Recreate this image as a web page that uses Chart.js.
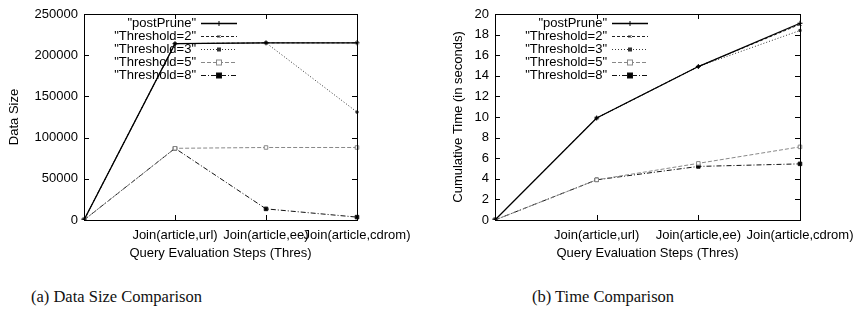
<!DOCTYPE html>
<html lang="en">
<head>
  <meta charset="UTF-8">
  <title>Data Size and Time Comparison</title>
  <script src="https://cdn.jsdelivr.net/npm/chart.js"></script>
  <style>
    * {
      margin: 0;
      padding: 0;
      box-sizing: border-box;
    }

    body {
      background: #fff;
      width: 854px;
      height: 320px;
      overflow: hidden;
      position: relative;
    }

    .panel {
      position: absolute;
      top: 0;
      height: 270px;
    }

    #sizeBox { left: 0; width: 425px; }
    #timeBox { left: 430px; width: 440px; }

    .caption {
      position: absolute;
      top: 287px;
      font-family: 'Liberation Serif', serif;
      font-size: 16.5px;
      color: #111;
    }
  </style>
</head>
<body>
  <div class="panel" id="sizeBox"><canvas id="sizeChart"></canvas></div>
  <div class="panel" id="timeBox"><canvas id="timeChart"></canvas></div>
  <div class="caption" style="left:31px">(a) Data Size Comparison</div>
  <div class="caption" style="left:532px">(b) Time Comparison</div>

  <script>
    // x categories (first step is the start, no label)
    const steps = ['', 'Join(article,url)', 'Join(article,ee)', 'Join(article,cdrom)'];
    const seriesNames = ['"postPrune"', '"Threshold=2"', '"Threshold=3"', '"Threshold=5"', '"Threshold=8"'];

    // (a) data size
    const sizePostPrune = [0, 214000, 215000, 215000];
    const sizeThres2 = [0, 214000, 215000, 215000];
    const sizeThres3 = [0, 214000, 215000, 131000];
    const sizeThres5 = [0, 87000, 88000, 88000];
    const sizeThres8 = [0, 87000, 13500, 3500];

    // (b) cumulative time in seconds
    const timePostPrune = [0, 9.9, 14.9, 19.1];
    const timeThres2 = [0, 9.9, 14.9, 19.0];
    const timeThres3 = [0, 9.9, 14.9, 18.4];
    const timeThres5 = [0, 3.9, 5.5, 7.1];
    const timeThres8 = [0, 3.9, 5.2, 5.45];

    const FONT = "'Liberation Sans', Arial, sans-serif";

    // line / marker style per series, same order as seriesNames
    const looks = [
      { color: '#000', dash: [], point: 'cross', radius: 2.5, fill: '#000', width: 1.3 },
      { color: '#222', dash: [3, 2], point: 'crossRot', radius: 2, fill: '#222', width: 1 },
      { color: '#333', dash: [1, 2], point: 'rect', radius: 1.5, fill: '#333', width: 1 },
      { color: '#888', dash: [4, 2], point: 'rect', radius: 2.5, fill: '#fff', width: 1 },
      { color: '#111', dash: [5, 2, 1, 2], point: 'rect', radius: 2.5, fill: '#000', width: 1 }
    ];

    // frame, inward ticks and gnuplot-like key
    const gnuplotLook = {
      id: 'gnuplotLook',
      afterDraw(chart) {
        const ctx = chart.ctx;
        const a = chart.chartArea;
        const xs = chart.scales.x;
        const ys = chart.scales.y;
        ctx.save();
        ctx.strokeStyle = '#000';
        ctx.lineWidth = 1;
        ctx.setLineDash([]);
        ctx.strokeRect(a.left + 0.5, a.top + 0.5, a.right - a.left, a.bottom - a.top);
        ctx.beginPath();
        ys.ticks.forEach(t => {
          const y = Math.round(ys.getPixelForValue(t.value)) + 0.5;
          ctx.moveTo(a.left, y); ctx.lineTo(a.left + 5, y);
          ctx.moveTo(a.right, y); ctx.lineTo(a.right - 5, y);
        });
        for (let i = 1; i < steps.length - 1; i++) {
          const x = Math.round(xs.getPixelForValue(i)) + 0.5;
          ctx.moveTo(x, a.bottom); ctx.lineTo(x, a.bottom - 5);
          ctx.moveTo(x, a.top); ctx.lineTo(x, a.top + 5);
        }
        ctx.stroke();

        // key
        ctx.font = '13px ' + FONT;
        ctx.textAlign = 'right';
        ctx.textBaseline = 'middle';
        chart.data.datasets.forEach((ds, i) => {
          const y = a.top + 9 + i * 13;
          const lk = looks[i];
          ctx.fillStyle = '#000';
          ctx.fillText(ds.label, a.left + 112, y);
          ctx.strokeStyle = lk.color;
          ctx.lineWidth = lk.width;
          ctx.setLineDash(lk.dash);
          ctx.beginPath();
          ctx.moveTo(a.left + 117, y + 0.5);
          ctx.lineTo(a.left + 153, y + 0.5);
          ctx.stroke();
          ctx.setLineDash([]);
          ctx.lineWidth = 1;
          ctx.fillStyle = lk.fill;
          if (lk.point === 'rect') {
            const r = lk.radius;
            ctx.fillRect(a.left + 135 - r, y + 0.5 - r, 2 * r, 2 * r);
            ctx.strokeRect(a.left + 135 - r, y + 0.5 - r, 2 * r, 2 * r);
          } else {
            Chart.helpers.drawPoint(ctx, {
              pointStyle: lk.point, radius: lk.radius, borderWidth: 1
            }, a.left + 135, y + 0.5);
          }
        });
        ctx.restore();
      }
    };

    function makeChart(canvasId, series, yMax, yStep, yTitle, padLeft, yWidth, padRight) {
      const datasets = series.map((vals, i) => ({
        label: seriesNames[i],
        data: vals,
        borderColor: looks[i].color,
        borderWidth: looks[i].width,
        borderDash: looks[i].dash,
        pointStyle: looks[i].point,
        pointRadius: looks[i].radius,
        pointBorderColor: looks[i].color,
        pointBackgroundColor: looks[i].fill,
        pointBorderWidth: 1,
        tension: 0,
        fill: false
      }));

      return new Chart(document.getElementById(canvasId), {
        type: 'line',
        data: { labels: steps, datasets: datasets },
        options: {
          responsive: true,
          maintainAspectRatio: false,
          animation: false,
          layout: { padding: { top: 14, right: padRight, left: padLeft, bottom: 9 } },
          plugins: {
            legend: { display: false },
            tooltip: { enabled: false }
          },
          scales: {
            x: {
              offset: false,
              grid: { display: false, drawTicks: false },
              border: { display: false },
              ticks: {
                autoSkip: false,
                maxRotation: 0,
                minRotation: 0,
                padding: 8,
                color: '#000',
                font: { family: FONT, size: 13 }
              },
              title: {
                display: true,
                text: 'Query Evaluation Steps (Thres)',
                color: '#000',
                padding: 0,
                font: { family: FONT, size: 13 }
              },
              afterFit(scale) { scale.height = 41; }
            },
            y: {
              min: 0,
              max: yMax,
              grid: { display: false, drawTicks: false },
              border: { display: false },
              ticks: {
                stepSize: yStep,
                padding: 6,
                color: '#000',
                font: { family: FONT, size: 13 },
                callback: v => String(v)
              },
              title: {
                display: true,
                text: yTitle,
                color: '#000',
                padding: 0,
                font: { family: FONT, size: 13 }
              },
              afterFit(scale) { scale.width = yWidth; }
            }
          }
        },
        plugins: [gnuplotLook]
      });
    }

    makeChart('sizeChart',
      [sizePostPrune, sizeThres2, sizeThres3, sizeThres5, sizeThres8],
      250000, 50000, 'Data Size', 7, 77, 68);

    makeChart('timeChart',
      [timePostPrune, timeThres2, timeThres3, timeThres5, timeThres8],
      20, 2, 'Cumulative Time (in seconds)', 21, 44, 70);
  </script>
</body>
</html>
